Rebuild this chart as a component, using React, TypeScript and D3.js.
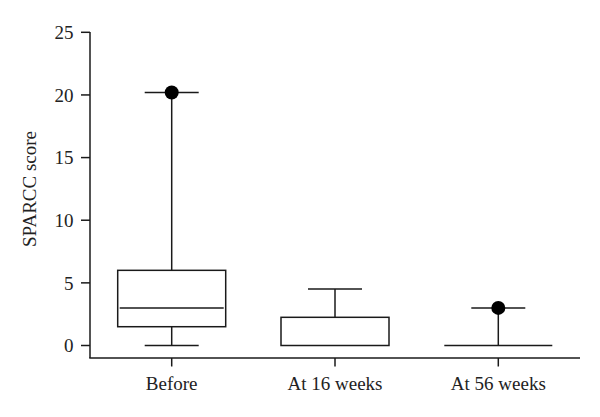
import React from "react";
import * as d3 from "d3";

const categories = ["Before", "At 16 weeks", "At 56 weeks"];
const whiskerLow = [0, 0, 0];
const q1 = [1.5, 0, 0];
const median = [3, 0, 0];
const q3 = [6, 2.25, 0];
const whiskerHigh = [20.2, 4.5, 3];
const outlierDots = [20.2, null, 3];
const yTicks = [0, 5, 10, 15, 20, 25];

const W = 600;
const H = 417;
const left = 90;
const right = 580;
const top = 32;
const axisY = 358;

export default function App() {
  const y = d3.scaleLinear().domain([0, 25]).range([345.5, 32.3]);
  const x = d3.scalePoint<string>().domain(categories).range([171.7, 498.3]);
  const boxW = 108;
  const capW = 54;
  const font = "'Liberation Serif', 'Times New Roman', serif";
  const stroke = "#1a1a1a";
  const fs = 19;
  return (
    <svg width={W} height={H} style={{ position: "absolute", left: 0, top: 0 }}>
      <rect width={W} height={H} fill="#fff" />
      <line x1={left} x2={left} y1={top} y2={axisY} stroke={stroke} strokeWidth={1.5} />
      <line x1={left - 0.75} x2={right} y1={axisY} y2={axisY} stroke={stroke} strokeWidth={1.5} />
      {yTicks.map((t) => (
        <g key={t}>
          <line x1={left - 9} x2={left} y1={y(t)} y2={y(t)} stroke={stroke} strokeWidth={1.5} />
          <text x={73.5} y={y(t)} dy="0.35em" textAnchor="end" fontFamily={font} fontSize={fs} fill="#222">
            {t}
          </text>
        </g>
      ))}
      <text
        transform={`translate(36,189) rotate(-90)`}
        textAnchor="middle"
        fontFamily={font}
        fontSize={fs}
        fill="#222"
      >
        SPARCC score
      </text>
      {categories.map((c, i) => {
        const cx = x(c) as number;
        return (
          <g key={c}>
            <line x1={cx} x2={cx} y1={axisY} y2={axisY + 8.5} stroke={stroke} strokeWidth={1.5} />
            <text x={cx} y={390} textAnchor="middle" fontFamily={font} fontSize={fs} fill="#222">
              {c}
            </text>
            <line x1={cx} x2={cx} y1={y(q3[i])} y2={y(whiskerHigh[i])} stroke={stroke} strokeWidth={1.5} />
            <line x1={cx} x2={cx} y1={y(q1[i])} y2={y(whiskerLow[i])} stroke={stroke} strokeWidth={1.5} />
            {whiskerHigh[i] > q3[i] && (
              <line x1={cx - capW / 2} x2={cx + capW / 2} y1={y(whiskerHigh[i])} y2={y(whiskerHigh[i])} stroke={stroke} strokeWidth={1.5} />
            )}
            {whiskerLow[i] < q1[i] && (
              <line x1={cx - capW / 2} x2={cx + capW / 2} y1={y(whiskerLow[i])} y2={y(whiskerLow[i])} stroke={stroke} strokeWidth={1.5} />
            )}
            {q3[i] > q1[i] ? (
              <rect x={cx - boxW / 2} width={boxW} y={y(q3[i])} height={y(q1[i]) - y(q3[i])} fill="none" stroke={stroke} strokeWidth={1.5} />
            ) : (
              <line x1={cx - boxW / 2} x2={cx + boxW / 2} y1={y(q1[i])} y2={y(q1[i])} stroke={stroke} strokeWidth={1.5} />
            )}
            {median[i] > q1[i] && (
              <line x1={cx - boxW / 2 + 2} x2={cx + boxW / 2 - 2} y1={y(median[i])} y2={y(median[i])} stroke={stroke} strokeWidth={1.5} />
            )}
            {outlierDots[i] != null && <circle cx={cx} cy={y(outlierDots[i] as number)} r={7} fill="#000" />}
          </g>
        );
      })}
    </svg>
  );
}
